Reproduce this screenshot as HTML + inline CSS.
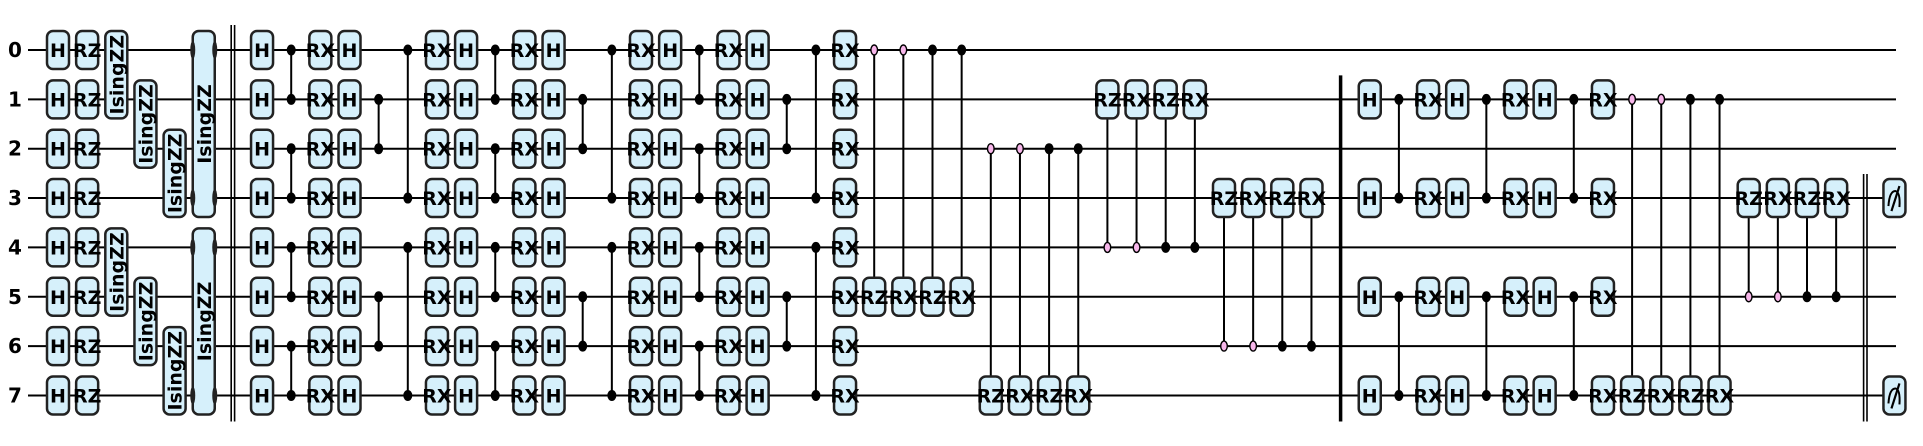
<!DOCTYPE html>
<html><head><meta charset="utf-8"><style>
html,body{margin:0;padding:0;background:#fff;}
svg{display:block;}
text{font-family:"DejaVu Sans","Liberation Sans",sans-serif;font-weight:bold;}
</style></head><body>
<svg id="circ" width="1923" height="446" viewBox="0 0 1923 446" xmlns="http://www.w3.org/2000/svg"></svg>
<script>
// ---- circuit data (logical columns / wires) ----
const wireLabels = ["0","1","2","3","4","5","6","7"];
const allWires = [0,1,2,3,4,5,6,7];
const subWires = [1,3,5,7];
// single-qubit gates: [column, wire, label]
const singleGates = [];
// controlled-Z: [column, wireA, wireB]
const czGates = [];
// controlled rotations: [column, controlWire, targetWire, label, openControl]
const ctrlGates = [];
// IsingZZ: [column, fromWire, toWire]
const isingGates = [[2,0,1],[3,1,2],[4,2,3],[5,0,3],[2,4,5],[3,5,6],[4,6,7],[5,4,7]];
// barriers: [column, fromWire, toWire, style]
const barriers = [[6,0,7,"double"],[44,1,7,"thick"],[62,3,7,"double"]];
const measures = [[63,3],[63,7]];
const ctrlLabels = ["RZ","RX","RZ","RX"];
const ctrlOpen = [true,true,false,false];
const ctrlBlocksA = [[28,0,5],[32,2,7],[36,4,1],[40,6,3]];
const ctrlBlocksB = [[54,1,7],[58,5,3]];

allWires.forEach(w=>{singleGates.push([0,w,"H"]);singleGates.push([1,w,"RZ"]);});
for(let r=0;r<3;r++){
  const b=7+7*r;
  allWires.forEach(w=>singleGates.push([b,w,"H"]));
  [[0,1],[2,3],[4,5],[6,7]].forEach(p=>czGates.push([b+1,p[0],p[1]]));
  allWires.forEach(w=>singleGates.push([b+2,w,"RX"]));
  allWires.forEach(w=>singleGates.push([b+3,w,"H"]));
  [[1,2],[5,6]].forEach(p=>czGates.push([b+4,p[0],p[1]]));
  [[0,3],[4,7]].forEach(p=>czGates.push([b+5,p[0],p[1]]));
  allWires.forEach(w=>singleGates.push([b+6,w,"RX"]));
}
for(let r=0;r<3;r++){
  const b=45+3*r;
  subWires.forEach(w=>singleGates.push([b,w,"H"]));
  [[1,3],[5,7]].forEach(p=>czGates.push([b+1,p[0],p[1]]));
  subWires.forEach(w=>singleGates.push([b+2,w,"RX"]));
}
ctrlBlocksA.concat(ctrlBlocksB).forEach(bk=>{
  for(let i=0;i<4;i++) ctrlGates.push([bk[0]+i,bk[1],bk[2],ctrlLabels[i],ctrlOpen[i]]);
});

// ---- axis functions ----
const X = c => 58 + 29.15*c;
const Y = w => 50 + 49.35*w;
const BW=22, BH=38;
const NS="http://www.w3.org/2000/svg";
const svg=document.getElementById('circ');
function mk(tag,attrs,parent){const e=document.createElementNS(NS,tag);for(const k in attrs)e.setAttribute(k,attrs[k]);(parent||svg).appendChild(e);return e;}

const gW=mk('g',{});


allWires.forEach(w=>{
  const l=mk('line',{x1:28,x2:1896,y1:Y(w),y2:Y(w),stroke:'#000','stroke-width':2},gW);
  
  
  const t=mk('text',{x:15,y:Y(w)+7,'text-anchor':'middle','font-size':20,fill:'#000'},gW);
  t.textContent=wireLabels[w];
  
  
});

barriers.forEach(b=>{
  const x=X(b[0]), y1=(b[1]===0?25:Y(b[1])-24), y2=Y(b[2])+26;
  const g=mk('g',{});
  
  
  if(b[3]==="double"){
    mk('line',{x1:x-1.7,x2:x-1.7,y1:y1,y2:y2,stroke:'#000','stroke-width':1.6},g);
    mk('line',{x1:x+1.7,x2:x+1.7,y1:y1,y2:y2,stroke:'#000','stroke-width':1.6},g);
  } else {
    mk('line',{x1:x,x2:x,y1:y1,y2:y2,stroke:'#000','stroke-width':3.5},g);
  }
});

function box(cx,cy,w,h,label,name,fs){
  const g=mk('g',{});
  
  
  mk('rect',{x:cx-w/2,y:cy-h/2,width:w,height:h,rx:6,ry:6,fill:'#d6f0fb',stroke:'#222','stroke-width':2.5},g);
  if(label){const t=mk('text',{x:cx,y:cy+7,'text-anchor':'middle','font-size':fs||19,fill:'#000'},g);t.textContent=label;}
  return g;
}

czGates.forEach(c=>{
  const g=mk('g',{});
  
  
  mk('line',{x1:X(c[0]),x2:X(c[0]),y1:Y(c[1]),y2:Y(c[2]),stroke:'#000','stroke-width':2},g);
  [c[1],c[2]].forEach(w=>mk('ellipse',{cx:X(c[0]),cy:Y(w),rx:4.5,ry:5.5,fill:'#000'},g));
});

ctrlGates.forEach(c=>{
  const g=mk('g',{});
  
  
  mk('line',{x1:X(c[0]),x2:X(c[0]),y1:Y(c[1]),y2:Y(c[2]),stroke:'#000','stroke-width':2},g);
  if(c[4]) mk('ellipse',{cx:X(c[0]),cy:Y(c[1]),rx:3.3,ry:5,fill:'#f7b6ea',stroke:'#000','stroke-width':1.4},g);
  else mk('ellipse',{cx:X(c[0]),cy:Y(c[1]),rx:4.5,ry:5.5,fill:'#000'},g);
  box(X(c[0]),Y(c[2]),BW,BH,c[3],'gate-'+c[3].toLowerCase());
});

singleGates.forEach(s=>{ box(X(s[0]),Y(s[1]),BW,BH,s[2],'gate-'+s[2].toLowerCase()); });

isingGates.forEach(z=>{
  const cx=X(z[0]), y1=Y(z[1])-19, y2=Y(z[2])+19;
  const g=box(cx,(y1+y2)/2,BW,y2-y1,null,'isingzz-gate');
  if(z[2]-z[1]>1){
    [z[1],z[2]].forEach(w=>{
      mk('ellipse',{cx:cx-BW/2,cy:Y(w),rx:2.5,ry:9,fill:'#222'},g);
      mk('ellipse',{cx:cx+BW/2,cy:Y(w),rx:2.5,ry:9,fill:'#222'},g);
    });
  }
  const t=mk('text',{x:0,y:0,'text-anchor':'middle','font-size':19,fill:'#000',transform:`translate(${cx+7},${(y1+y2)/2}) rotate(-90)`},g);
  t.textContent="IsingZZ";
});

measures.forEach(m=>{
  const cx=X(m[0]), cy=Y(m[1]);
  const g=box(cx,cy,BW,BH,null,'measurement');
  mk('path',{d:`M${cx-6},${cy+8} Q${cx-5},${cy-7} ${cx+1},${cy-7} Q${cx+6},${cy-6} ${cx+5},${cy+9}`,fill:'none',stroke:'#000','stroke-width':2},g);
  mk('line',{x1:cx-3,y1:cy+13,x2:cx+5,y2:cy-12,stroke:'#000','stroke-width':2.2},g);
});
</script>
</body></html>
